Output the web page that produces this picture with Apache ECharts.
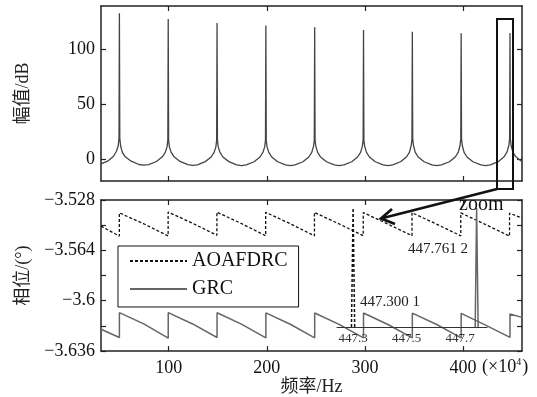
<!DOCTYPE html>
<html>
<head>
<meta charset="utf-8">
<script src="https://cdn.jsdelivr.net/npm/echarts@6/dist/echarts.min.js"></script>
<style>
html, body { margin: 0; padding: 0; background: #fff; }
#chart { width: 537px; height: 397px; }
</style>
</head>
<body>
<div id="chart"></div>
<script>
// magnitude (top), x in 1e4 Hz
const magFreq = [
    31, 37.75, 43.75, 46.75, 48.55, 49.35, 49.75, 50.15, 50.95, 52.75, 55.75, 61.75, 69.75, 74.6,
    79.5, 87.5, 93.5, 96.5, 98.3, 99.1, 99.5, 99.9, 100.7, 102.5, 105.5, 111.5, 119.5, 124.4,
    129.25, 137.25, 143.25, 146.25, 148.05, 148.85, 149.25, 149.65, 150.45, 152.25, 155.25, 161.25, 169.25, 174.1,
    179, 187, 193, 196, 197.8, 198.6, 199, 199.4, 200.2, 202, 205, 211, 219, 223.9,
    228.75, 236.75, 242.75, 245.75, 247.55, 248.35, 248.75, 249.15, 249.95, 251.75, 254.75, 260.75, 268.75, 273.6,
    278.5, 286.5, 292.5, 295.5, 297.3, 298.1, 298.5, 298.9, 299.7, 301.5, 304.5, 310.5, 318.5, 323.4,
    328.25, 336.25, 342.25, 345.25, 347.05, 347.85, 348.25, 348.65, 349.45, 351.25, 354.25, 360.25, 368.25, 373.1,
    378, 386, 392, 395, 396.8, 397.6, 398, 398.4, 399.2, 401, 404, 410, 418, 422.9,
    427.76, 435.76, 441.76, 444.76, 446.56, 447.36, 447.76, 448.16, 448.96, 450.76, 453.76, 460
];
const magDb = [
    -4.5, -2, 2.5, 7, 12, 19, 132.5, 19, 12, 6, 2, -2, -5, -5.6,
    -5.2, -2.3, 2, 6, 11, 17, 127.3, 17, 11, 6, 2, -2.2, -5.1, -5.8,
    -5.3, -2.4, 1.8, 6, 11, 17, 123.6, 17, 11, 6, 1.8, -2.4, -5.3, -6,
    -5.4, -2.5, 1.8, 6, 11, 17, 121.2, 17, 11, 6, 1.8, -2.5, -5.4, -6,
    -5.4, -2.5, 1.8, 6, 11.5, 17, 119.7, 17, 11.5, 6, 1.8, -2.5, -5.4, -6,
    -5.4, -2.5, 1.8, 6, 11.5, 17, 117.3, 17, 11.5, 6, 1.8, -2.5, -5.4, -6,
    -5.4, -2.5, 1.8, 6, 12, 18, 115.7, 18, 12, 6, 1.8, -2.5, -5.4, -6,
    -5.4, -2.5, 1.8, 6, 12, 18, 114.3, 18, 12, 6, 1.8, -2.5, -5.4, -6,
    -5.3, -2.4, 2, 6.5, 12, 18, 114.5, 18, 12, 6, 2, -2.5
];

// phase (bottom)
const phaseFreqA = [31, 49.7, 49.7, 74.55, 99.4, 99.4, 124.25, 149.1, 149.1, 173.95, 198.8, 198.8, 223.65,
    248.5, 248.5, 273.35, 298.2, 298.2, 323.05, 347.9, 347.9, 372.75, 397.6, 397.6, 422.45, 447.3, 447.3, 460];
const phaseA = [-3.5467, -3.5538, -3.5372, -3.5450, -3.5537, -3.5366, -3.5446, -3.5532, -3.5367, -3.5448,
    -3.5535, -3.5368, -3.5449, -3.5536, -3.5369, -3.5450, -3.5535, -3.5370, -3.5451, -3.5535, -3.5371,
    -3.5452, -3.5536, -3.5372, -3.5454, -3.5538, -3.5374, -3.5409];
const phaseFreqG = [31, 49.75, 49.75, 74.6, 99.5, 99.5, 124.4, 149.25, 149.25, 174.1, 199, 199, 223.9,
    248.75, 248.75, 273.6, 298.5, 298.5, 323.4, 348.25, 348.25, 373.1, 398, 398, 422.9, 447.76, 447.76, 460];
const phaseG = [-3.6204, -3.6263, -3.6085, -3.6165, -3.6268, -3.6085, -3.6166, -3.6263, -3.6086, -3.6167,
    -3.6265, -3.6087, -3.6168, -3.6265, -3.6088, -3.6169, -3.6265, -3.6088, -3.6170, -3.6266, -3.6089,
    -3.6170, -3.6266, -3.6090, -3.6174, -3.6262, -3.6095, -3.6119];

// zoomed inset around the 9th harmonic
const zoomFreqA = [447.294, 447.3001, 447.306];
const zoomValA = [0, 1, 0];
const zoomFreqG = [447.756, 447.7612, 447.767];
const zoomValG = [0, 1, 0];

const freqTicks = [100, 200, 300, 400];
const magTicks = [0, 50, 100];
const phaseLabels = [-3.636, -3.6, -3.564, -3.528];
const phaseTicks = [-3.636, -3.618, -3.6, -3.582, -3.564, -3.546, -3.528];
const zoomTicks = [447.3, 447.5, 447.7];

const font = '"Liberation Serif", "Times New Roman", "Noto Sans CJK SC", serif';
const pairs = (xs, ys) => xs.map((x, i) => [x, ys[i]]);

const lineAxis = { onZero: false, lineStyle: { color: '#222', width: 1.5 } };
const tick = (vals) => ({ show: true, inside: true, length: 5, customValues: vals, lineStyle: { color: '#222', width: 1.2 } });
const labelStyle = { fontFamily: font, fontSize: 18, color: '#111' };
const nameStyle = { fontFamily: font, fontSize: 18, color: '#222' };

function frameX(grid, pos, showLabel) {
    return {
        type: 'value', gridIndex: grid, position: pos, min: 31, max: 460,
        axisLine: lineAxis, axisTick: tick(freqTicks), splitLine: { show: false },
        axisLabel: showLabel
            ? Object.assign({ show: true, margin: 8, customValues: freqTicks }, labelStyle)
            : { show: false }
    };
}

const chart = echarts.init(document.getElementById('chart'));
chart.setOption({
    animation: false,
    backgroundColor: '#fff',
    grid: [
        { left: 101, right: 15, top: 6, height: 175 },
        { left: 101, right: 15, top: 200, height: 152 },
        { left: 337, top: 208, width: 150, height: 119 }
    ],
    legend: {
        data: ['AOAFDRC', 'GRC'],
        orient: 'vertical',
        left: 118, top: 246,
        itemWidth: 57, itemHeight: 14, itemGap: 8,
        padding: [5, 11, 8, 11],
        backgroundColor: '#fff',
        borderColor: '#111', borderWidth: 1,
        itemStyle: { color: 'rgba(0,0,0,0)', borderWidth: 0, opacity: 0 },
        textStyle: { fontFamily: font, fontSize: 20, color: '#111' }
    },
    xAxis: [
        frameX(0, 'bottom', false),
        frameX(0, 'top', false),
        Object.assign(frameX(1, 'bottom', true), {
            name: '频率/Hz', nameLocation: 'middle', nameGap: 25, nameTextStyle: nameStyle
        }),
        frameX(1, 'top', false),
        {
            type: 'value', gridIndex: 2, min: 447.24, max: 447.80, z: 5,
            axisLine: { onZero: false, lineStyle: { color: '#333', width: 1.2 } },
            axisTick: { show: false }, splitLine: { show: false },
            axisLabel: {
                customValues: zoomTicks, margin: 5, fontFamily: font, fontSize: 13, color: '#333',
                formatter: v => v.toFixed(1)
            }
        }
    ],
    yAxis: [
        {
            type: 'value', gridIndex: 0, position: 'left', min: -20, max: 139,
            axisLine: lineAxis, axisTick: tick(magTicks), splitLine: { show: false },
            axisLabel: Object.assign({ customValues: magTicks, margin: 6 }, labelStyle),
            name: '幅值/dB', nameLocation: 'middle', nameGap: 69, nameTextStyle: nameStyle
        },
        {
            type: 'value', gridIndex: 0, position: 'right', min: -20, max: 139,
            axisLine: lineAxis, axisTick: tick(magTicks), splitLine: { show: false },
            axisLabel: { show: false }
        },
        {
            type: 'value', gridIndex: 1, position: 'left', min: -3.636, max: -3.528,
            axisLine: lineAxis, axisTick: tick(phaseTicks), splitLine: { show: false },
            axisLabel: Object.assign({
                customValues: phaseLabels, margin: 6,
                formatter: v => String(Math.round(v * 1000) / 1000).replace('-', '\u2212')
            }, labelStyle),
            name: '相位/(°)', nameLocation: 'middle', nameGap: 69, nameTextStyle: nameStyle
        },
        {
            type: 'value', gridIndex: 1, position: 'right', min: -3.636, max: -3.528,
            axisLine: lineAxis, axisTick: tick(phaseTicks), splitLine: { show: false },
            axisLabel: { show: false }
        },
        { type: 'value', gridIndex: 2, min: 0, max: 1, show: false }
    ],
    series: [
        {
            name: 'magnitude', type: 'line', xAxisIndex: 0, yAxisIndex: 0,
            symbol: 'none', data: pairs(magFreq, magDb),
            lineStyle: { color: '#444', width: 1.3 }
        },
        {
            name: 'AOAFDRC', type: 'line', xAxisIndex: 2, yAxisIndex: 2,
            symbol: 'none', data: pairs(phaseFreqA, phaseA),
            itemStyle: { color: '#111' },
            lineStyle: { color: '#111', width: 1.3, type: [3, 2] }
        },
        {
            name: 'GRC', type: 'line', xAxisIndex: 2, yAxisIndex: 2,
            symbol: 'none', data: pairs(phaseFreqG, phaseG),
            itemStyle: { color: '#666' },
            lineStyle: { color: '#666', width: 1.5 }
        },
        {
            name: 'AOAFDRC', type: 'line', xAxisIndex: 4, yAxisIndex: 4, z: 6,
            symbol: 'none', data: pairs(zoomFreqA, zoomValA),
            lineStyle: { color: '#111', width: 1.5, type: [3, 2] }
        },
        {
            name: 'GRC', type: 'line', xAxisIndex: 4, yAxisIndex: 4, z: 6,
            symbol: 'none', data: pairs(zoomFreqG, zoomValG),
            lineStyle: { color: '#666', width: 1.5 }
        }
    ],
    graphic: [
        // white patch behind the inset
        { type: 'rect', z: 3, shape: { x: 337, y: 205, width: 151, height: 141 }, style: { fill: '#fff' } },
        { type: 'text', z: 7, x: 459, y: 195, style: { text: 'zoom', font: '20px ' + font, fill: '#111' } },
        { type: 'text', z: 7, x: 408, y: 242, style: { text: '447.761 2', font: '15px ' + font, fill: '#222' } },
        { type: 'text', z: 7, x: 360, y: 295, style: { text: '447.300 1', font: '15px ' + font, fill: '#222' } },
        // zoom box and arrow
        { type: 'rect', z: 10, shape: { x: 497, y: 19, width: 16, height: 170 }, style: { fill: 'none', stroke: '#111', lineWidth: 2 } },
        { type: 'polyline', z: 10, shape: { points: [[497, 189], [383, 218]] }, style: { stroke: '#111', lineWidth: 2.5 } },
        { type: 'polyline', z: 10, shape: { points: [[392, 209], [381, 218.5], [395, 224]] }, style: { stroke: '#111', lineWidth: 2.8, fill: 'none' } },
        {
            type: 'text', z: 7, x: 482, y: 367,
            style: {
                text: '(×10{s|4})', font: '18px ' + font, fill: '#111', verticalAlign: 'middle',
                rich: { s: { fontSize: 10, fontFamily: font, padding: [0, 1, 9, 0] } }
            }
        }
    ]
});
</script>
</body>
</html>
